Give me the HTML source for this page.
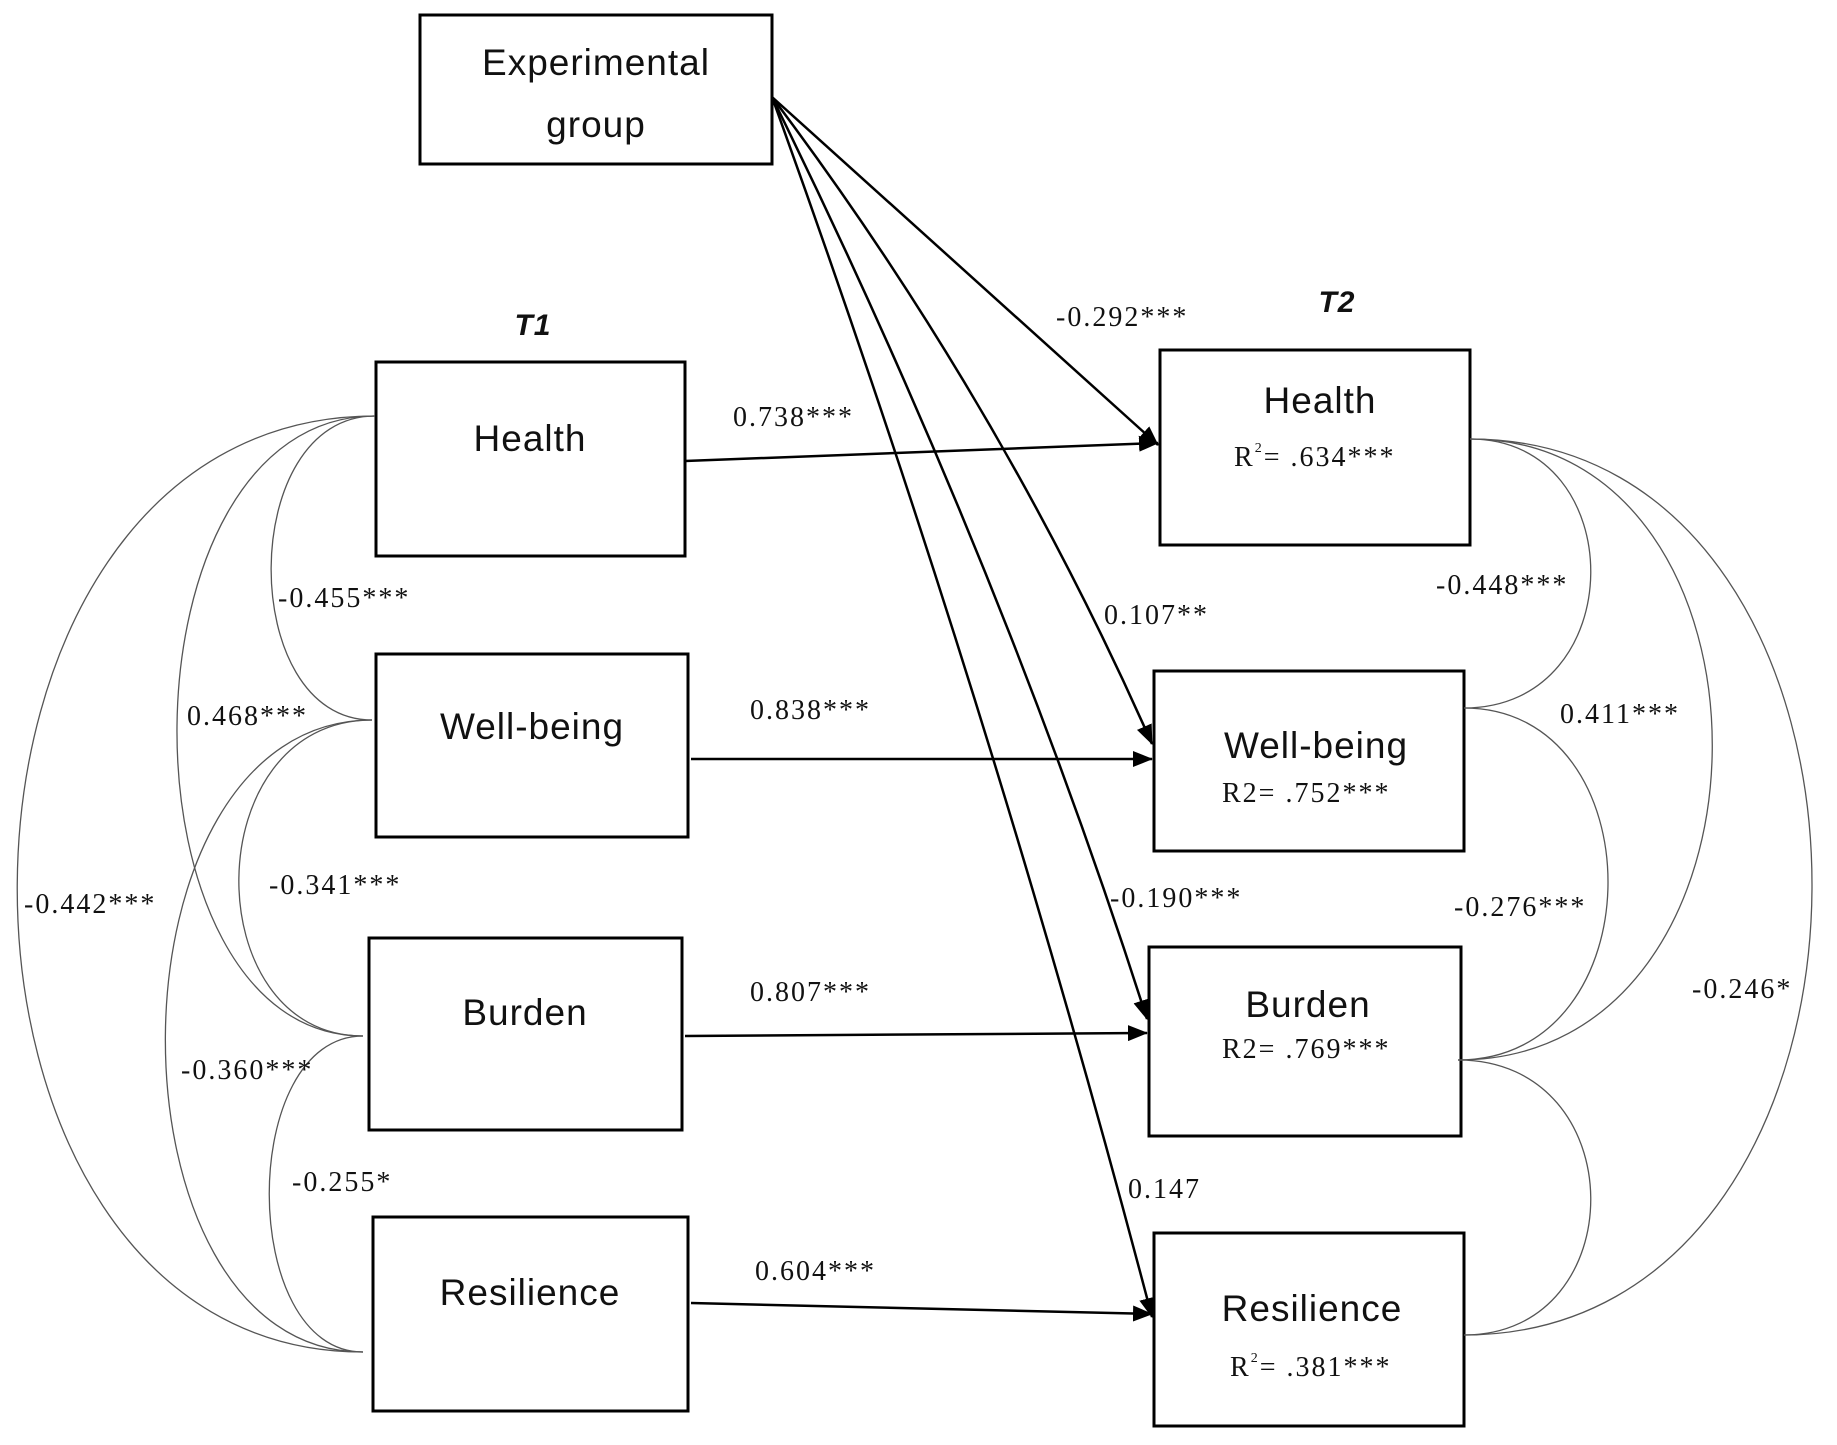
<!DOCTYPE html>
<html><head><style>body{margin:0;background:#fff}</style></head><body>
<svg width="1837" height="1440" viewBox="0 0 1837 1440" xmlns="http://www.w3.org/2000/svg">
<defs><marker id="a" markerWidth="20" markerHeight="16" refX="19" refY="8" orient="auto" markerUnits="userSpaceOnUse"><path d="M0,0 L20,8 L0,16 z" fill="#000"/></marker></defs>
<g fill="none" stroke="#000" stroke-width="3">
<rect x="420" y="15" width="352" height="149"/>
<rect x="376" y="362" width="309" height="194"/>
<rect x="376" y="654" width="312" height="183"/>
<rect x="369" y="938" width="313" height="192"/>
<rect x="373" y="1217" width="315" height="194"/>
<rect x="1160" y="350" width="310" height="195"/>
<rect x="1154" y="671" width="310" height="180"/>
<rect x="1149" y="947" width="312" height="189"/>
<rect x="1154" y="1233" width="310" height="193"/>
</g>
<g stroke="#000" stroke-width="2.5" fill="none" marker-end="url(#a)">
<line x1="685" y1="461" x2="1158" y2="443"/>
<line x1="691" y1="759" x2="1152" y2="759"/>
<line x1="685" y1="1036" x2="1147" y2="1033"/>
<line x1="691" y1="1303" x2="1152" y2="1314"/>
<line x1="772" y1="97" x2="1158" y2="445"/>
<path d="M772,97 Q1000,400 1152,744"/>
<path d="M772,97 Q1000,560 1147,1019"/>
<path d="M772,97 Q990,700 1152,1317"/>
</g>
<g stroke="#555" stroke-width="1.3" fill="none">
<path d="M375,416 C237,416 237,720 372,720"/>
<path d="M375,416 C113,416 113,1036 363,1036"/>
<path d="M375,416 C-100,416 -100,1352 363,1352"/>
<path d="M372,720 C196,720 196,1036 363,1036"/>
<path d="M372,720 C98,720 98,1352 363,1352"/>
<path d="M363,1036 C238,1036 238,1352 363,1352"/>
<path d="M1470,439 C1632,439 1632,708 1464,708"/>
<path d="M1470,439 C1795,439 1795,1060 1458,1060"/>
<path d="M1470,439 C1927,439 1927,1335 1464,1335"/>
<path d="M1464,708 C1657,708 1657,1060 1458,1060"/>
<path d="M1458,1060 C1634,1060 1634,1335 1464,1335"/>
</g>
<g font-family="Liberation Sans, sans-serif" font-size="37" letter-spacing="1" text-anchor="middle" fill="#111">
<text x="596" y="75">Experimental</text>
<text x="596" y="137">group</text>
<text x="530" y="451">Health</text>
<text x="532" y="739">Well-being</text>
<text x="525" y="1025">Burden</text>
<text x="530" y="1305">Resilience</text>
<text x="1320" y="413">Health</text>
<text x="1316" y="758">Well-being</text>
<text x="1308" y="1017">Burden</text>
<text x="1312" y="1321">Resilience</text>
<text x="533" y="335" font-weight="bold" font-style="italic" font-size="30">T1</text>
<text x="1337" y="312" font-weight="bold" font-style="italic" font-size="30">T2</text>
</g>
<g font-family="Liberation Serif, serif" font-size="28" letter-spacing="2" fill="#111">
<text x="1234" y="466">R<tspan font-size="14" dy="-14">2</tspan><tspan dy="14">= .634***</tspan></text>
<text x="1222" y="802">R2= .752***</text>
<text x="1222" y="1058">R2= .769***</text>
<text x="1230" y="1376">R<tspan font-size="14" dy="-14">2</tspan><tspan dy="14">= .381***</tspan></text>
<text x="1056" y="326">-0.292***</text>
<text x="733" y="426">0.738***</text>
<text x="1104" y="624">0.107**</text>
<text x="750" y="719">0.838***</text>
<text x="1110" y="907">-0.190***</text>
<text x="750" y="1001">0.807***</text>
<text x="1128" y="1198">0.147</text>
<text x="755" y="1280">0.604***</text>
<text x="278" y="607">-0.455***</text>
<text x="187" y="725">0.468***</text>
<text x="24" y="913">-0.442***</text>
<text x="269" y="894">-0.341***</text>
<text x="181" y="1079">-0.360***</text>
<text x="292" y="1191">-0.255*</text>
<text x="1436" y="594">-0.448***</text>
<text x="1560" y="723">0.411***</text>
<text x="1454" y="916">-0.276***</text>
<text x="1692" y="998">-0.246*</text>
</g>
</svg>
</body></html>
